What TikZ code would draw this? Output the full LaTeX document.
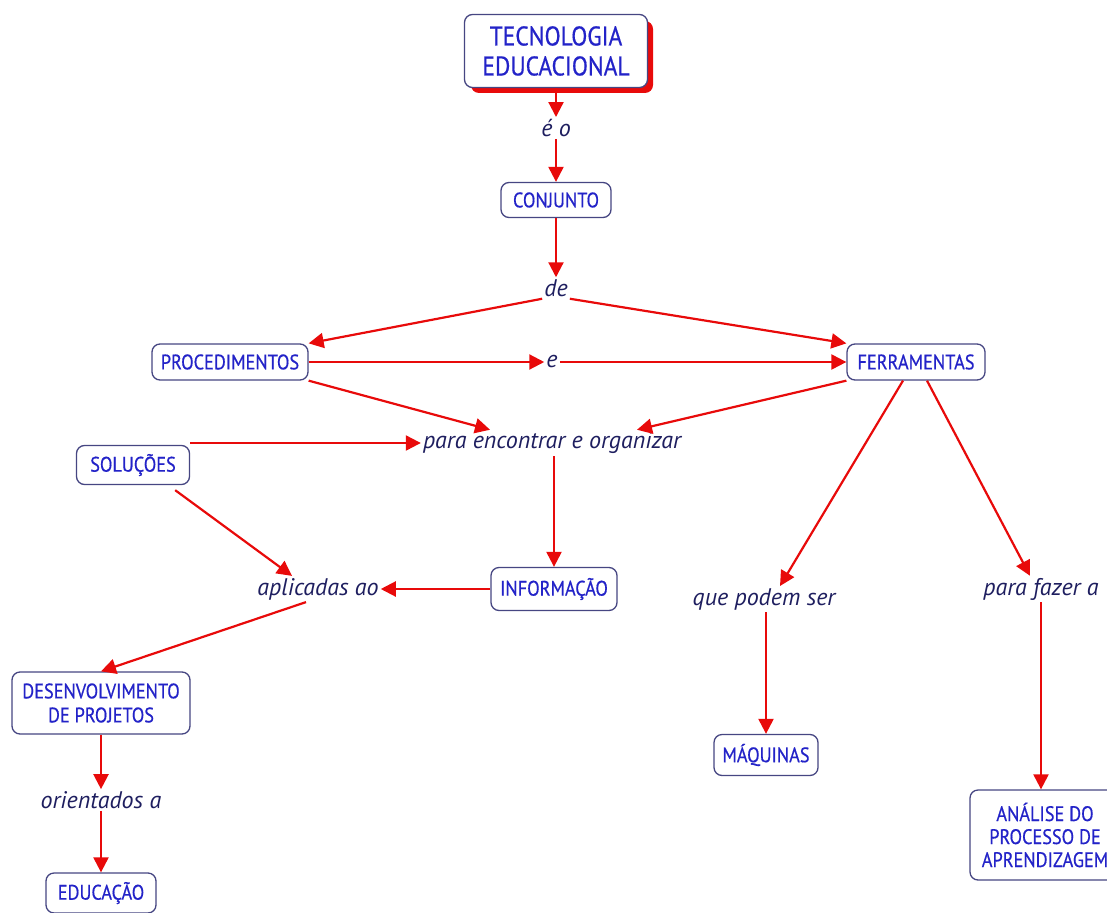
\documentclass[tikz,border=0pt]{standalone}
\usepackage{fontspec}
\setmainfont{PT Sans}
\newfontfamily\conceptfont{PT Sans}[FakeStretch=0.87, FakeBold=0.5]
\usetikzlibrary{arrows.meta}
\definecolor{conceptblue}{RGB}{35,35,200}
\definecolor{framegray}{RGB}{70,70,130}
\definecolor{linknavy}{RGB}{30,30,95}
\definecolor{arrowred}{RGB}{232,10,10}
\tikzset{
  concept/.style={draw=framegray, line width=1.3pt, rounded corners=8pt, fill=white,
    text=conceptblue, font=\conceptfont\fontsize{21}{24}\selectfont, align=center,
    inner xsep=6pt, inner ysep=6pt},
  linkword/.style={text=linknavy, font=\fontsize{24}{28}\selectfont\itshape, inner sep=2pt},
  rel/.style={draw=arrowred, line width=2.2pt, -{Triangle[length=15pt,width=15pt]}},
}
\begin{document}
\begin{tikzpicture}[x=1pt,y=-1pt]
\useasboundingbox (0,0) rectangle (1107,912);

% title concept with its red shadow
\fill[arrowred, rounded corners=8pt] (471,21) rectangle (653,93);
\node[concept, font=\conceptfont\fontsize{27}{30}\selectfont, minimum width=183pt, minimum height=73pt]
  (tec) at (556,51) {TECNOLOGIA\\EDUCACIONAL};

% concepts
\node[concept, minimum width=110pt, minimum height=35pt] (conj) at (556,200) {CONJUNTO};
\node[concept, minimum width=156pt, minimum height=36pt] (proc) at (230,362) {PROCEDIMENTOS};
\node[concept, minimum width=138pt, minimum height=36pt] (ferr) at (916,362) {FERRAMENTAS};
\node[concept, minimum width=113pt, minimum height=39pt] (sol) at (133,465) {SOLUÇÕES};
\node[concept, minimum width=126pt, minimum height=43pt] (info) at (554,589) {INFORMAÇÃO};
\node[concept, minimum width=178pt, minimum height=62pt] (desen) at (101,703) {DESENVOLVIMENTO\\DE PROJETOS};
\node[concept, minimum width=110pt, minimum height=40pt] (educ) at (101,893) {EDUCAÇÃO};
\node[concept, minimum width=104pt, minimum height=41pt] (maq) at (766,755) {MÁQUINAS};
\node[concept, font=\conceptfont\fontsize{21}{23}\selectfont, minimum width=150pt,
  minimum height=90pt, inner xsep=2pt] (anal) at (1045,835)
  {ANÁLISE DO\\PROCESSO DE\\APRENDIZAGEM};

% linking phrases
\node[linkword] (eo) at (556,128) {é o};
\node[linkword] (de) at (556,288) {de};
\node[linkword] (e) at (552,361) {e};
\node[linkword] (para) at (552,443) {para encontrar e organizar};
\node[linkword] (aplic) at (318,589) {aplicadas ao};
\node[linkword] (que) at (764,599) {que podem ser};
\node[linkword] (fazer) at (1041,589) {para fazer a};
\node[linkword] (orient) at (101,800) {orientados a};

% connectors
\draw[rel] (tec.south) -- (eo.north);
\draw[rel] (eo.south) -- (conj.north);
\draw[rel] (conj.south) -- (de.north);
\draw[rel] (de.south west) -- (proc.north east);
\draw[rel] (de.south east) -- (ferr.north west);
\draw[rel] (proc.east) -- (e.west |- proc.east);
\draw[rel] (e.east |- ferr.west) -- (ferr.west);
\draw[rel] (proc.south east) -- (para.north -| 490,0);
\draw[rel] (ferr.south west) -- (para.north -| 637,0);
\draw[rel] (sol.north east |- para.west) -- (para.west);
\draw[rel] (para.south -| info.north) -- (info.north);
\draw[rel] ([xshift=-15pt,yshift=-5pt]sol.south east) -- (aplic.north -| 292,0);
\draw[rel] (info.west) -- (aplic.east);
\draw[rel] ([xshift=-12pt]aplic.south) -- (desen.north);
\draw[rel] (desen.south) -- (orient.north);
\draw[rel] (orient.south) -- (educ.north);
\draw[rel] ([xshift=-13pt]ferr.south) -- (que.north -| 780,0);
\draw[rel] ([xshift=11pt]ferr.south) -- (fazer.north -| 1030,0);
\draw[rel] (que.south -| maq.north) -- (maq.north);
\draw[rel] (fazer.south) -- (fazer.south |- anal.north);
\end{tikzpicture}
\end{document}
